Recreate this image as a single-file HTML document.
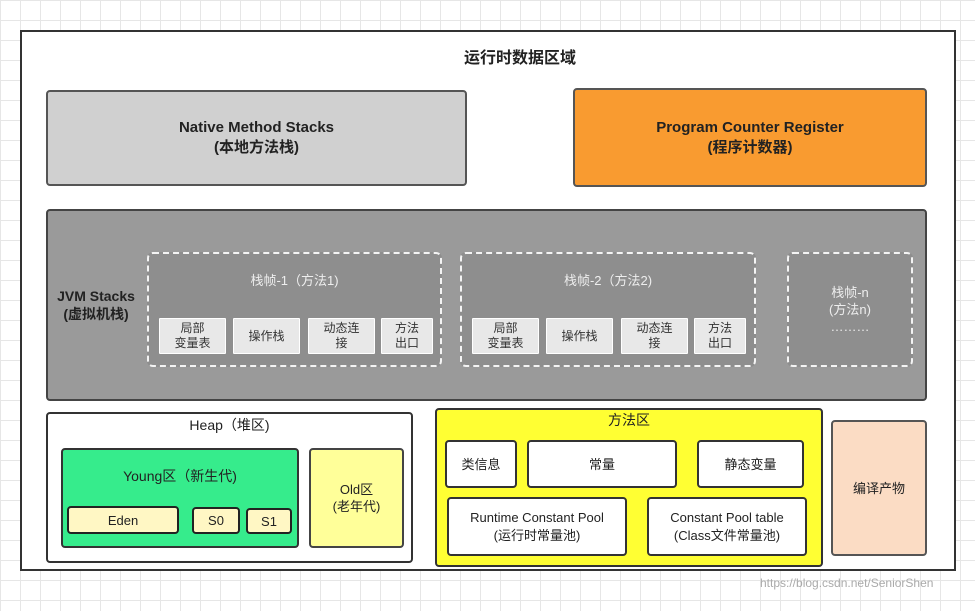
<!DOCTYPE html>
<html><head><meta charset="utf-8"><style>
body{margin:0;width:975px;height:611px;overflow:hidden;background:#fff;
background-image:linear-gradient(#e6e6e6 1px,transparent 1px),linear-gradient(90deg,#e6e6e6 1px,transparent 1px);background-size:20px 20px;
font-family:"Liberation Sans","Noto Sans CJK SC",sans-serif;color:#222;}
.b{position:absolute;box-sizing:border-box;display:flex;flex-direction:column;align-items:center;justify-content:center;text-align:center;font-size:13px;line-height:17px;border-radius:4px}
.s{background:#e8e8e8;border:1px solid #fff;font-size:12px;line-height:15px;color:#333;border-radius:1px}
.d{border:2px dashed #f4f4f4;background:#8e8e8e;color:#eee;justify-content:flex-start;padding-top:18px;border-radius:6px}
.w{background:#fff;border:2px solid #333;border-radius:4px}
</style></head><body>
<div class="b" style="left:20px;top:30px;width:936px;height:541px;background:#fff;border:2px solid #333;border-radius:0"></div>
<div class="b" style="left:420px;top:46px;width:200px;height:24px;font-weight:bold;font-size:16px">运行时数据区域</div>
<div class="b" style="left:46px;top:90px;width:421px;height:96px;background:#d0d0d0;border:2px solid #555;font-weight:bold;font-size:15px;line-height:20px">Native Method Stacks<br>(本地方法栈)</div>
<div class="b" style="left:573px;top:88px;width:354px;height:99px;background:#f99b30;border:2px solid #555;font-weight:bold;font-size:15px;line-height:20px">Program Counter Register<br>(程序计数器)</div>
<div class="b" style="left:46px;top:209px;width:881px;height:192px;background:#9a9a9a;border:2px solid #444"></div>
<div class="b" style="left:48px;top:280px;width:96px;height:50px;font-weight:bold;font-size:14px;line-height:18px">JVM Stacks<br>(虚拟机栈)</div>
<div class="b d" style="left:147px;top:252px;width:295px;height:115px">栈帧-1（方法1)</div>
<div class="b d" style="left:460px;top:252px;width:296px;height:115px">栈帧-2（方法2)</div>
<div class="b d" style="left:787px;top:252px;width:126px;height:115px;justify-content:center;padding-top:0;line-height:17px">栈帧-n<br>(方法n)<br>………</div>
<div class="b s" style="left:159px;top:318px;width:67px;height:36px">局部<br>变量表</div>
<div class="b s" style="left:233px;top:318px;width:67px;height:36px">操作栈</div>
<div class="b s" style="left:308px;top:318px;width:67px;height:36px">动态连<br>接</div>
<div class="b s" style="left:381px;top:318px;width:52px;height:36px">方法<br>出口</div>
<div class="b s" style="left:472px;top:318px;width:67px;height:36px">局部<br>变量表</div>
<div class="b s" style="left:546px;top:318px;width:67px;height:36px">操作栈</div>
<div class="b s" style="left:621px;top:318px;width:67px;height:36px">动态连<br>接</div>
<div class="b s" style="left:694px;top:318px;width:52px;height:36px">方法<br>出口</div>
<div class="b w" style="left:46px;top:412px;width:367px;height:151px;justify-content:flex-start;padding-top:3px;font-size:14px">Heap（堆区)</div>
<div class="b" style="left:61px;top:448px;width:238px;height:100px;background:#36ec8c;border:2px solid #333;justify-content:flex-start;padding-top:18px;font-size:14px">Young区（新生代)</div>
<div class="b" style="left:67px;top:506px;width:112px;height:28px;background:#fff7c4;border:2px solid #222">Eden</div>
<div class="b" style="left:192px;top:507px;width:48px;height:27px;background:#fff7c4;border:2px solid #222">S0</div>
<div class="b" style="left:246px;top:508px;width:46px;height:26px;background:#fff7c4;border:2px solid #222">S1</div>
<div class="b" style="left:309px;top:448px;width:95px;height:100px;background:#ffff99;border:2px solid #444">Old区<br>(老年代)</div>
<div class="b" style="left:435px;top:408px;width:388px;height:159px;background:#ffff33;border:2px solid #333;justify-content:flex-start;padding-top:2px;font-size:14px">方法区</div>
<div class="b w" style="left:445px;top:440px;width:72px;height:48px">类信息</div>
<div class="b w" style="left:527px;top:440px;width:150px;height:48px">常量</div>
<div class="b w" style="left:697px;top:440px;width:107px;height:48px">静态变量</div>
<div class="b w" style="left:447px;top:497px;width:180px;height:59px;line-height:18px">Runtime Constant Pool<br>(运行时常量池)</div>
<div class="b w" style="left:647px;top:497px;width:160px;height:59px;line-height:18px">Constant Pool table<br>(Class文件常量池)</div>
<div class="b" style="left:831px;top:420px;width:96px;height:136px;background:#fbdcc4;border:2px solid #555">编译产物</div>
<div style="position:absolute;left:760px;top:576px;font-size:12px;color:#aaa">https://blog.csdn.net/SeniorShen</div>
</body></html>
